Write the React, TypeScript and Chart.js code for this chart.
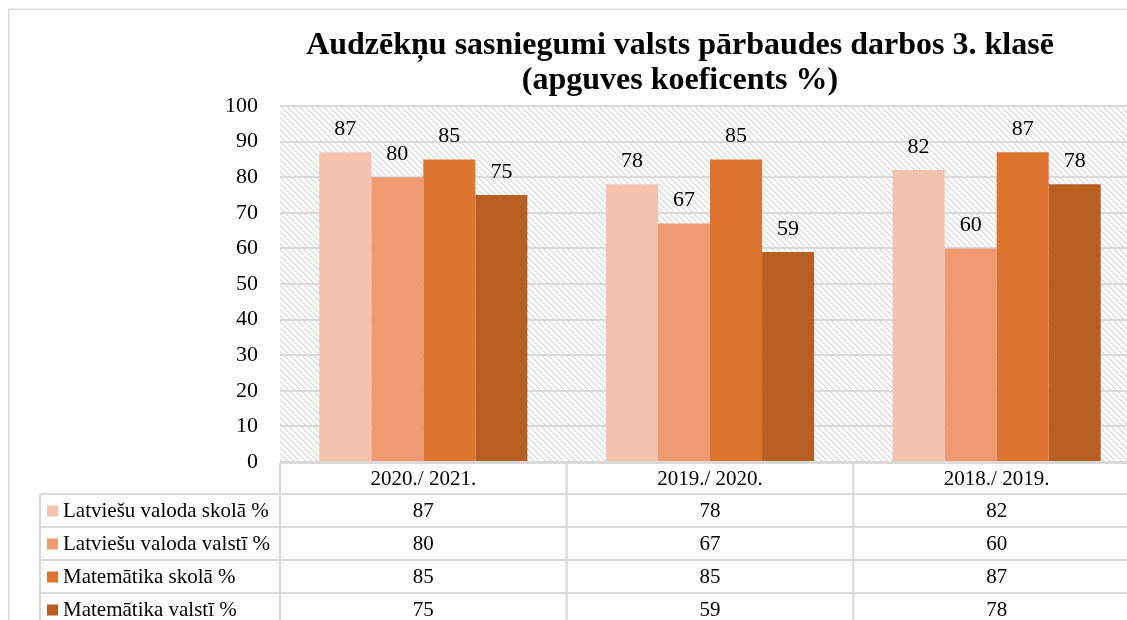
import React, { useEffect, useRef } from "react";
import { Chart, registerables } from "chart.js";

Chart.register(...registerables);

const categories = ["2020./ 2021.", "2019./ 2020.", "2018./ 2019."];
const seriesNames = [
  "Latviešu valoda skolā %",
  "Latviešu valoda valstī %",
  "Matemātika skolā %",
  "Matemātika valstī %",
];
const latSchool = [87, 78, 82];
const latState = [80, 67, 60];
const mathSchool = [85, 85, 87];
const mathState = [75, 59, 78];
const seriesValues = [latSchool, latState, mathSchool, mathState];
const seriesColors = ["#F4C2AF", "#EF9A70", "#DD742F", "#B86024"];
const titleLines = [
  "Audzēkņu sasniegumi valsts pārbaudes darbos 3. klasē",
  "(apguves koeficents %)",
];
const yMin = 0;
const yMax = 100;
const yStep = 10;

const FONT = '"Liberation Serif", "Times New Roman", serif';
const LINE = "#d9d9d9";

function makePattern(ctx: CanvasRenderingContext2D) {
  const c = document.createElement("canvas");
  c.width = 6;
  c.height = 6;
  const g = c.getContext("2d")!;
  g.fillStyle = "#e0e0e0";
  for (let i = 0; i < 6; i++) {
    g.fillRect(i, i, 1, 1);
    g.fillRect((i + 1) % 6, i, 1, 1);
  }
  return ctx.createPattern(c, "repeat")!;
}

const customPlugin = {
  id: "customDecor",
  beforeDraw(chart: any) {
    const { ctx, chartArea: a } = chart;
    ctx.save();
    ctx.strokeStyle = LINE;
    ctx.lineWidth = 1.5;
    ctx.beginPath();
    ctx.moveTo(0.75, chart.height);
    ctx.lineTo(0.75, 1.25);
    ctx.lineTo(chart.width, 1.25);
    ctx.stroke();
    ctx.fillStyle = makePattern(ctx);
    ctx.fillRect(a.left, a.top, a.right - a.left, a.bottom - a.top);
    ctx.restore();
  },
  afterDraw(chart: any) {
    const { ctx, chartArea: a } = chart;
    const xs = chart.scales.x;
    ctx.save();

    // title
    ctx.fillStyle = "#000";
    ctx.font = `bold 32px ${FONT}`;
    ctx.textAlign = "center";
    ctx.textBaseline = "alphabetic";
    ctx.fillText(titleLines[0], 672, 46);
    ctx.fillText(titleLines[1], 672, 81);

    // data labels
    ctx.font = `22px ${FONT}`;
    ctx.fillStyle = "#000";
    chart.data.datasets.forEach((ds: any, di: number) => {
      const meta = chart.getDatasetMeta(di);
      meta.data.forEach((el: any, i: number) => {
        ctx.fillText(String(ds.data[i]), el.x, el.y - 17);
      });
    });

    // data table
    const half = (xs.getPixelForValue(1) - xs.getPixelForValue(0)) / 2;
    const colEdges: number[] = [];
    categories.forEach((_, i) => colEdges.push(xs.getPixelForValue(i) - half));
    colEdges.push(xs.getPixelForValue(categories.length - 1) + half);
    const headerTop = a.bottom + 1;
    const headerBottom = headerTop + 31;
    const rowH = 33;
    const tableLeft = 32;
    const bottom = chart.height + 20;

    ctx.strokeStyle = LINE;
    ctx.lineWidth = 2;
    ctx.beginPath();
    ctx.moveTo(colEdges[0], headerTop);
    ctx.lineTo(colEdges[colEdges.length - 1], headerTop);
    for (let r = 0; r <= seriesNames.length; r++) {
      const y = headerBottom + r * rowH;
      ctx.moveTo(tableLeft, y);
      ctx.lineTo(colEdges[colEdges.length - 1], y);
    }
    colEdges.forEach((x) => {
      ctx.moveTo(x, headerTop);
      ctx.lineTo(x, bottom);
    });
    ctx.moveTo(tableLeft, headerBottom);
    ctx.lineTo(tableLeft, bottom);
    ctx.stroke();

    ctx.font = `21px ${FONT}`;
    ctx.fillStyle = "#000";
    ctx.textAlign = "center";
    ctx.textBaseline = "middle";
    categories.forEach((c, i) => {
      ctx.fillText(c, xs.getPixelForValue(i), (headerTop + headerBottom) / 2 + 1);
    });
    seriesNames.forEach((name, r) => {
      const yc = headerBottom + r * rowH + rowH / 2 + 1;
      ctx.fillStyle = seriesColors[r];
      ctx.fillRect(tableLeft + 7, yc - 6, 11, 11);
      ctx.fillStyle = "#000";
      ctx.textAlign = "left";
      ctx.fillText(name, tableLeft + 23, yc);
      ctx.textAlign = "center";
      seriesValues[r].forEach((v, i) => {
        ctx.fillText(String(v), xs.getPixelForValue(i), yc);
      });
    });
    ctx.restore();
  },
};

export default function App() {
  const ref = useRef<HTMLCanvasElement | null>(null);
  useEffect(() => {
    if (!ref.current) return;
    const chart = new Chart(ref.current, {
      type: "bar",
      data: {
        labels: categories,
        datasets: seriesNames.map((n, i) => ({
          label: n,
          data: seriesValues[i],
          backgroundColor: seriesColors[i],
          borderWidth: 0,
          categoryPercentage: 0.726,
          barPercentage: 1,
        })),
      },
      options: {
        responsive: false,
        animation: false,
        devicePixelRatio: 1,
        layout: { padding: { left: 0, top: 98, right: 18, bottom: 158 } },
        plugins: {
          legend: { display: false },
          title: { display: false },
          tooltip: { enabled: false },
        },
        scales: {
          x: { display: false },
          y: {
            min: yMin,
            max: yMax,
            border: { display: false },
            grid: { color: LINE, lineWidth: 2, drawTicks: false },
            ticks: {
              stepSize: yStep,
              padding: 22,
              color: "#000",
              font: { family: FONT, size: 22 },
            },
            afterFit: (s: any) => {
              s.width = 272;
            },
          },
        },
      },
      plugins: [customPlugin],
    });
    return () => chart.destroy();
  }, []);
  return (
    <div
      style={{
        position: "fixed",
        left: 8,
        top: 8,
        width: 1119,
        height: 612,
        overflow: "hidden",
        background: "#fff",
      }}
    >
      <canvas ref={ref} width={1150} height={612} style={{ display: "block" }} />
    </div>
  );
}
